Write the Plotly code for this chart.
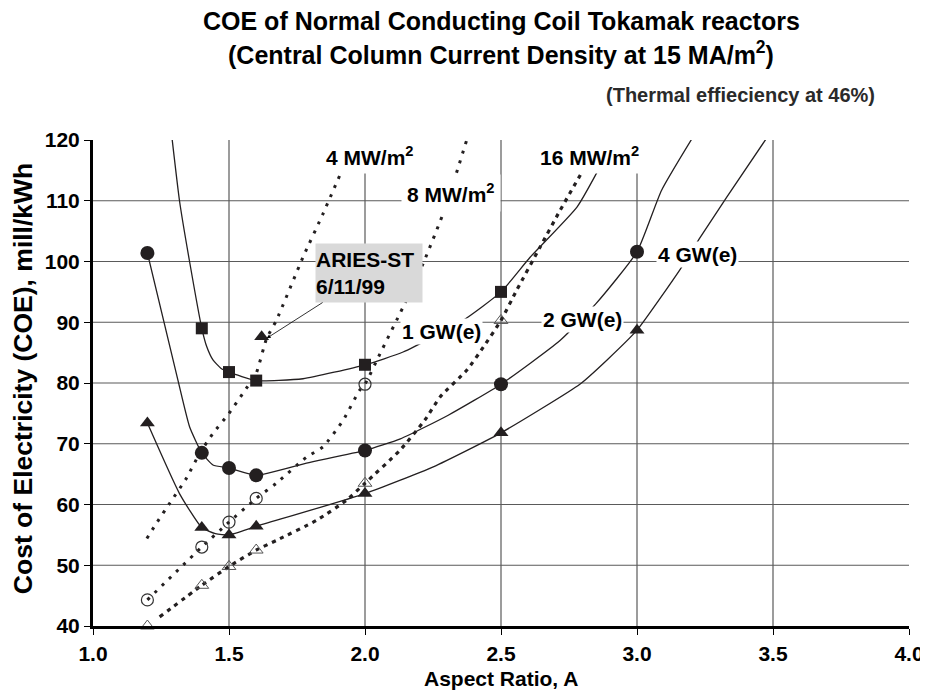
import plotly.graph_objects as go

# ---------------- data ----------------
# 1 GW(e)  (filled squares)
gw1_x = [1.4, 1.5, 1.6, 2.0, 2.5]
gw1_y = [89.0, 81.8, 80.4, 83.0, 95.0]
gw1_line_x = [1.29, 1.318, 1.355, 1.4, 1.418, 1.441, 1.471, 1.5, 1.6, 1.772, 2.0, 2.14, 2.36, 2.5, 2.607, 2.78, 2.876]
gw1_line_y = [120.5, 110.0, 100.0, 89.0, 86.0, 83.8, 82.4, 81.8, 80.4, 80.7, 83.0, 85.1, 90.3, 95.0, 100.7, 109.0, 116.6]

# 2 GW(e)  (filled circles)
gw2_x = [1.2, 1.4, 1.5, 1.6, 2.0, 2.5, 3.0]
gw2_y = [101.4, 68.5, 66.0, 64.8, 68.9, 79.8, 101.6]
gw2_line_x = [1.2, 1.312, 1.355, 1.4, 1.441, 1.5, 1.6, 1.785, 2.0, 2.13, 2.306, 2.5, 2.717, 2.85, 3.0, 3.09, 3.21]
gw2_line_y = [101.4, 80.5, 72.8, 68.5, 66.5, 66.0, 64.8, 66.8, 68.9, 70.8, 74.7, 79.8, 87.0, 93.1, 101.6, 111.7, 120.8]

# 4 GW(e)  (filled triangles)
gw4_x = [1.2, 1.4, 1.5, 1.6, 2.0, 2.5, 3.0]
gw4_y = [73.4, 56.2, 55.0, 56.4, 61.8, 71.8, 88.7]
gw4_line_x = [1.2, 1.318, 1.4, 1.45, 1.5, 1.6, 2.0, 2.251, 2.5, 2.79, 2.89, 3.0, 3.16, 3.233, 3.33, 3.484]
gw4_line_y = [73.4, 61.8, 56.2, 55.2, 55.0, 56.4, 61.8, 66.2, 71.8, 79.8, 83.8, 88.7, 98.8, 104.0, 110.6, 120.8]

# ARIES-ST design point
aries_x = [1.62]
aries_y = [87.6]

# 4 MW/m2 wall loading (dotted)
mw4_x = [1.198, 1.233, 1.282, 1.343, 1.392, 1.441, 1.5, 1.551, 1.6, 1.638, 1.674, 1.772, 1.846, 1.926]
mw4_y = [54.4, 56.9, 60.2, 64.3, 68.4, 71.7, 75.0, 78.3, 81.6, 87.3, 90.3, 100.7, 107.9, 116.1]

# 8 MW/m2 wall loading (dotted, open circles)
mw8_x = [1.2, 1.4, 1.5, 1.6, 2.0]
mw8_y = [44.3, 53.0, 57.1, 61.0, 79.8]
mw8_line_x = [1.2, 1.4, 1.5, 1.6, 1.674, 1.785, 1.846, 1.92, 1.98, 2.0, 2.055, 2.14, 2.214, 2.294, 2.374]
mw8_line_y = [44.3, 53.0, 57.1, 61.0, 63.5, 67.8, 69.5, 73.9, 78.8, 79.8, 84.8, 92.5, 99.7, 108.7, 120.0]

# 16 MW/m2 wall loading (dotted, open triangles)
mw16_x = [1.2, 1.4, 1.5, 1.6, 2.0, 2.5]
mw16_y = [40.0, 46.7, 49.8, 52.5, 63.5, 90.3]
mw16_line_x = [1.245, 1.4, 1.5, 1.6, 1.675, 1.822, 1.932, 2.0, 2.128, 2.22, 2.276, 2.374, 2.435, 2.5, 2.558, 2.644, 2.717, 2.822]
mw16_line_y = [41.5, 46.7, 49.8, 52.5, 54.1, 57.4, 60.7, 63.5, 68.9, 73.9, 77.7, 82.1, 85.9, 90.3, 95.3, 102.4, 108.4, 116.6]

x_ticks = [1.0, 1.5, 2.0, 2.5, 3.0, 3.5, 4.0]
x_tick_text = ["1.0", "1.5", "2.0", "2.5", "3.0", "3.5", "4.0"]
y_ticks = [40, 50, 60, 70, 80, 90, 100, 110, 120]
x_grid = [1.5, 2.0, 2.5, 3.0, 3.5]
y_grid = [50, 60, 70, 80, 90, 100, 110]

# ---------------- styling ----------------
FONT = "Liberation Sans, Arial, sans-serif"
INK = "#231f20"
GRID = "#5a5a5a"


def bfont(size, color="black"):
    return dict(family=FONT, size=size, color=color, weight="bold")


fig = go.Figure()

# solid power curves
for lx, ly in [(gw1_line_x, gw1_line_y), (gw2_line_x, gw2_line_y), (gw4_line_x, gw4_line_y)]:
    fig.add_trace(go.Scatter(x=lx, y=ly, mode="lines",
                             line=dict(color=INK, width=1.3, shape="spline", smoothing=0.5),
                             hoverinfo="skip", showlegend=False))

# dotted wall-loading curves
fig.add_trace(go.Scatter(x=mw4_x, y=mw4_y, mode="lines",
                         line=dict(color=INK, width=3, dash="3px,7px", shape="spline", smoothing=0.5),
                         showlegend=False))
fig.add_trace(go.Scatter(x=mw8_line_x, y=mw8_line_y, mode="lines",
                         line=dict(color=INK, width=3, dash="3px,7px", shape="spline", smoothing=0.5),
                         showlegend=False))
fig.add_trace(go.Scatter(x=mw16_line_x, y=mw16_line_y, mode="lines",
                         line=dict(color=INK, width=3.2, dash="4px,5px", shape="spline", smoothing=0.5),
                         showlegend=False))

# markers
fig.add_trace(go.Scatter(x=mw8_x, y=mw8_y, mode="markers",
                         marker=dict(symbol="circle-open", size=12, color="#333333", line=dict(width=1.2)),
                         showlegend=False))
fig.add_trace(go.Scatter(x=mw16_x, y=mw16_y, mode="markers", cliponaxis=False,
                         marker=dict(symbol="triangle-up-open", size=12, color="#555555", line=dict(width=1)),
                         showlegend=False))
fig.add_trace(go.Scatter(x=gw1_x, y=gw1_y, mode="markers",
                         marker=dict(symbol="square", size=12, color=INK),
                         showlegend=False))
fig.add_trace(go.Scatter(x=gw2_x, y=gw2_y, mode="markers",
                         marker=dict(symbol="circle", size=14, color=INK),
                         showlegend=False))
fig.add_trace(go.Scatter(x=gw4_x, y=gw4_y, mode="markers",
                         marker=dict(symbol="triangle-up", size=13, color=INK),
                         showlegend=False))
fig.add_trace(go.Scatter(x=aries_x, y=aries_y, mode="markers",
                         marker=dict(symbol="triangle-up", size=13, color=INK),
                         showlegend=False))

# gridlines (no line at the top edge, none at x = 4.0)
shapes = []
for gx in x_grid:
    shapes.append(dict(type="line", xref="x", yref="y", x0=gx, x1=gx, y0=40, y1=120,
                       line=dict(color=GRID, width=1.2), layer="below"))
for gy in y_grid:
    shapes.append(dict(type="line", xref="x", yref="y", x0=1, x1=4, y0=gy, y1=gy,
                       line=dict(color=GRID, width=1.2), layer="below"))


def px_x(v):  # paper x from data x (range 1..4)
    return (v - 1) / 3.0


def px_y(v):  # paper y from data y (range 40..120)
    return (v - 40) / 80.0


annotations = [
    dict(text="COE of Normal Conducting Coil Tokamak reactors", xref="paper", yref="paper",
         x=0.5, y=1.245, xanchor="center", yanchor="middle", showarrow=False, font=bfont(25)),
    dict(text="(Central Column Current Density at 15 MA/m<sup>2</sup>)", xref="paper", yref="paper",
         x=0.5, y=1.18, xanchor="center", yanchor="middle", showarrow=False, font=bfont(25)),
    dict(text="(Thermal effieciency at 46%)", xref="paper", yref="paper",
         x=0.961, y=1.0926, xanchor="right", yanchor="middle", showarrow=False,
         font=bfont(20, "#2a2a2a")),
    dict(text="Aspect Ratio, A", xref="paper", yref="paper", x=0.5, y=-0.107,
         xanchor="center", yanchor="middle", showarrow=False, font=bfont(21)),
    dict(text="Cost of Electricity (COE), mill/kWh", xref="paper", yref="paper",
         x=-0.0858, y=0.51, xanchor="center", yanchor="middle", textangle=-90,
         showarrow=False, font=bfont(26.5)),
    dict(text="4 MW/m<sup>2</sup>", xref="paper", yref="paper", x=px_x(2.018), y=px_y(120.3),
         showarrow=False, bgcolor="white", borderpad=4, font=bfont(21)),
    dict(text="8 MW/m<sup>2</sup>", xref="paper", yref="paper", x=px_x(2.316), y=px_y(114.4),
         showarrow=False, bgcolor="white", borderpad=5, font=bfont(21)),
    dict(text="16 MW/m<sup>2</sup>", xref="paper", yref="paper", x=px_x(2.824), y=px_y(120.3),
         showarrow=False, bgcolor="white", borderpad=4, font=bfont(21)),
    dict(text="1 GW(e)", x=2.281, y=88.4, showarrow=False, bgcolor="white",
         borderpad=1, font=bfont(21)),
    dict(text="2 GW(e)", x=2.80, y=90.4, showarrow=False, bgcolor="white",
         borderpad=1, font=bfont(21)),
    dict(text="4 GW(e)", x=3.224, y=101.1, showarrow=False, bgcolor="white",
         borderpad=1, font=bfont(21)),
    dict(text="ARIES-ST<br>6/11/99", x=1.6386, y=87.36, ax=2.0136, ay=98.1,
         xref="x", yref="y", axref="x", ayref="y", showarrow=True,
         arrowhead=2, arrowsize=1, arrowwidth=0.8, arrowcolor="black",
         bgcolor="#d9d9d9", width=106, height=58, borderpad=0, align="left",
         font=bfont(21)),
]

# the page body adds an 8 px offset, so the figure is sized to fit the window
fig.update_layout(
    width=920, height=686,
    margin=dict(l=85, r=19, t=132, b=68),
    paper_bgcolor="white", plot_bgcolor="white",
    showlegend=False,
    shapes=shapes,
    annotations=annotations,
    xaxis=dict(range=[1, 4], tickvals=x_ticks, ticktext=x_tick_text, showgrid=False,
               zeroline=False, showline=True, linecolor="black", linewidth=3,
               ticks="outside", ticklen=6, tickcolor="black", tickwidth=1,
               tickfont=bfont(21), automargin=False, ticklabeloverflow="allow",
               ticklabelstandoff=1),
    yaxis=dict(range=[40, 120], tickvals=y_ticks, showgrid=False, zeroline=False,
               showline=True, linecolor="black", linewidth=3,
               ticks="outside", ticklen=6, tickcolor="black", tickwidth=1,
               tickfont=bfont(21), automargin=False, ticklabeloverflow="allow"),
)

fig.write_html("out.html")
